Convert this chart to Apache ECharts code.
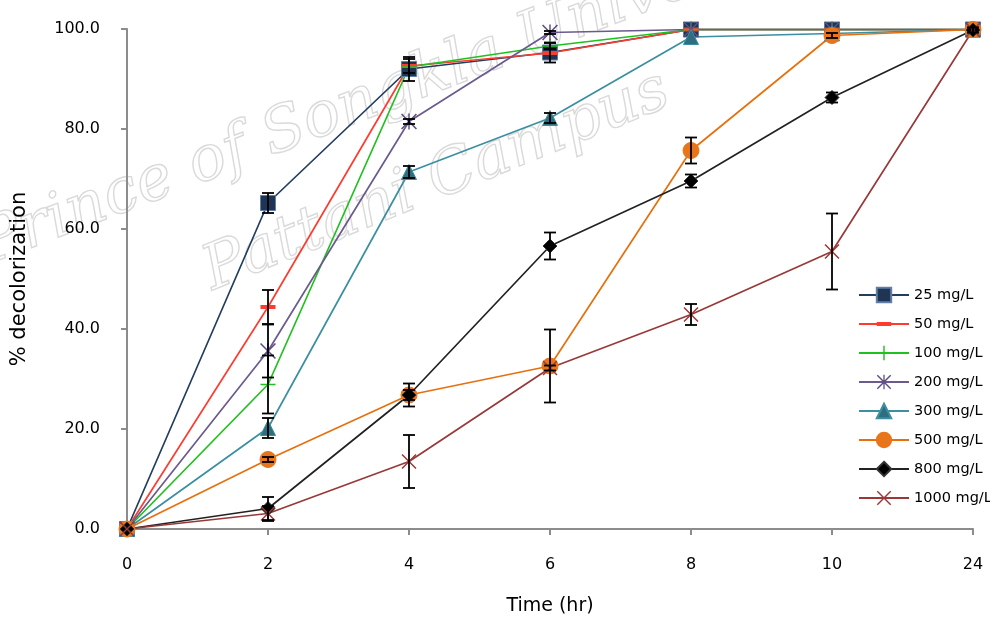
<!DOCTYPE html>
<html>
<head>
<meta charset="utf-8">
<title>% decolorization vs time</title>
<script src="https://cdn.jsdelivr.net/npm/echarts@6/dist/echarts.min.js"></script>
<style>
  html, body { margin: 0; padding: 0; background: #fff; }
  #chart { width: 990px; height: 621px; }
</style>
</head>
<body>
<div id="chart"></div>
<script>
// Sampling times (hr), shown as evenly spaced categories
const times = ['0', '2', '4', '6', '8', '10', '24'];
const yTicks = [0, 20, 40, 60, 80, 100];

// Dye concentrations
const names = ['25 mg/L', '50 mg/L', '100 mg/L', '200 mg/L', '300 mg/L', '500 mg/L', '800 mg/L', '1000 mg/L'];

// Mean % decolorization per concentration
const v25   = [0, 65.2, 92.0, 95.3, 99.9, 99.9, 99.9];
const v50   = [0, 44.4, 92.6, 95.2, 99.9, 99.9, 99.9];
const v100  = [0, 28.9, 92.4, 96.6, 99.9, 99.9, 99.9];
const v200  = [0, 35.6, 81.5, 99.3, 99.9, 99.9, 99.9];
const v300  = [0, 20.2, 71.4, 82.2, 98.4, 99.1, 99.9];
const v500  = [0, 13.9, 26.8, 32.6, 75.7, 98.7, 99.9];
const v800  = [0, 4.1, 26.8, 56.6, 69.6, 86.3, 99.8];
const v1000 = [0, 3.1, 13.5, 32.2, 42.9, 55.5, 99.8];

// Standard deviations (error bars)
const e25   = [0, 2.0, 2.4, 2.0, 0, 0, 0];
const e50   = [0, 3.4, 1.4, 0, 0, 0, 0];
const e100  = [0, 5.8, 0, 0.6, 0, 0, 0];
const e200  = [0, 5.3, 0.5, 0.3, 0, 0, 0];
const e300  = [0, 2.0, 1.2, 1.0, 0, 0, 0];
const e500  = [0, 0.5, 1.0, 7.3, 2.6, 0.5, 0];
const e800  = [0, 2.3, 2.3, 2.7, 1.3, 1.0, 0.5];
const e1000 = [0, 1.5, 5.3, 0.5, 2.1, 7.6, 0.5];

const values = [v25, v50, v100, v200, v300, v500, v800, v1000];
const errors = [e25, e50, e100, e200, e300, e500, e800, e1000];

// Marker shapes drawn as filled outlines (20x20 box; the dash keeps its
// box through two zero-area corner points)
const DASH = 'path://M0,0 L0.01,0 Z M0,7.2 H20 V12.8 H0 Z M20,20 L19.99,20 Z';
const PLUS = 'path://M9,0 H11 V9 H20 V11 H11 V20 H9 V11 H0 V9 H9 Z';
const CROSS = 'path://M0,1.4 L1.4,0 L10,8.6 L18.6,0 L20,1.4 L11.4,10 L20,18.6 L18.6,20 L10,11.4 L1.4,20 L0,18.6 L8.6,10 Z';
const STAR = 'path://M0,1.4 L1.4,0 L10,8.6 L18.6,0 L20,1.4 L11.4,10 L20,18.6 L18.6,20 L10,11.4 L1.4,20 L0,18.6 L8.6,10 Z M9.1,0 H10.9 V20 H9.1 Z';

const styles = [
  { line: '#223d5e', fill: '#1f3553', border: '#5f7fa6', symbol: 'rect', size: 15 },
  { line: '#ff3b2f', fill: '#ff3b2f', border: null, symbol: DASH, size: 15 },
  { line: '#1fc11f', fill: '#1fc11f', border: null, symbol: PLUS, size: 15 },
  { line: '#6b5a8e', fill: '#5e4d85', border: null, symbol: STAR, size: 16 },
  { line: '#3a8fa1', fill: '#2d6f80', border: '#3f8ea0', symbol: 'triangle', size: 15 },
  { line: '#e8700c', fill: '#e8751a', border: '#e8751a', symbol: 'circle', size: 16 },
  { line: '#222222', fill: '#000000', border: '#333333', symbol: 'diamond', size: 14 },
  { line: '#993838', fill: '#993838', border: null, symbol: CROSS, size: 15 }
];

const FONT = '"DejaVu Sans", Verdana, sans-serif';

const lineSeries = names.map((name, i) => ({
  name: name,
  type: 'line',
  data: values[i],
  symbol: styles[i].symbol,
  symbolSize: styles[i].size,
  showAllSymbol: true,
  lineStyle: { color: styles[i].line, width: 1.7 },
  itemStyle: {
    color: styles[i].fill,
    borderColor: styles[i].border || styles[i].fill,
    borderWidth: styles[i].border ? 1 : 0
  },
  emphasis: { disabled: true },
  z: 2
}));

// Flatten error bars: [categoryIndex, mean, sd]
const errData = [];
values.forEach((vals, i) => {
  vals.forEach((v, j) => {
    if (errors[i][j] > 0) errData.push([j, v, errors[i][j]]);
  });
});

const errorSeries = {
  type: 'custom',
  name: 'sd',
  data: errData,
  z: 5,
  silent: true,
  renderItem: function (params, api) {
    const x = api.value(0);
    const m = api.value(1);
    const sd = api.value(2);
    const top = api.coord([x, m + sd]);
    const bot = api.coord([x, m - sd]);
    const cap = 6;
    const st = { stroke: '#000', lineWidth: 1.8 };
    return {
      type: 'group',
      children: [
        { type: 'line', shape: { x1: top[0], y1: top[1], x2: bot[0], y2: bot[1] }, style: st },
        { type: 'line', shape: { x1: top[0] - cap, y1: top[1], x2: top[0] + cap, y2: top[1] }, style: st },
        { type: 'line', shape: { x1: bot[0] - cap, y1: bot[1], x2: bot[0] + cap, y2: bot[1] }, style: st }
      ]
    };
  }
};

const wmStyle = {
  fill: 'rgba(255,255,255,0)',
  stroke: '#dadada',
  lineWidth: 1.4,
  font: 'italic 62px "DejaVu Serif", serif',
  textAlign: 'left',
  textVerticalAlign: 'bottom'
};

const chart = echarts.init(document.getElementById('chart'), null, { renderer: 'canvas' });
chart.setOption({
  animation: false,
  backgroundColor: '#ffffff',
  grid: { left: 127, right: 17, top: 29, bottom: 92 },
  graphic: [
    { type: 'text', x: -6, y: 278, rotation: 21 * Math.PI / 180, z: -10, silent: true,
      style: Object.assign({ text: 'Prince of Songkla University' }, wmStyle) },
    { type: 'text', x: 218, y: 304, rotation: 22 * Math.PI / 180, z: -10, silent: true,
      style: Object.assign({ text: 'Pattani Campus' }, wmStyle) }
  ],
  legend: {
    orient: 'vertical',
    left: 853,
    top: 281,
    itemWidth: 50,
    itemHeight: 18,
    itemGap: 11,
    data: names,
    textStyle: { fontFamily: FONT, fontSize: 14.5, color: '#000', lineHeight: 18 }
  },
  xAxis: {
    type: 'category',
    data: times,
    boundaryGap: false,
    name: 'Time (hr)',
    nameLocation: 'middle',
    nameGap: 68,
    nameTextStyle: { fontFamily: FONT, fontSize: 19, color: '#000' },
    axisLine: { lineStyle: { color: '#8c8c8c', width: 2 } },
    axisTick: { show: true, length: 6, lineStyle: { color: '#8c8c8c', width: 2 } },
    axisLabel: { fontFamily: FONT, fontSize: 16, color: '#000', margin: 28 },
    splitLine: { show: false }
  },
  yAxis: {
    type: 'value',
    min: yTicks[0],
    max: yTicks[yTicks.length - 1],
    interval: 20,
    name: '% decolorization',
    nameLocation: 'middle',
    nameGap: 97,
    nameTextStyle: { fontFamily: FONT, fontSize: 21, color: '#000' },
    axisLine: { show: true, lineStyle: { color: '#8c8c8c', width: 2 } },
    axisTick: { show: true, length: 6, lineStyle: { color: '#8c8c8c', width: 2 } },
    axisLabel: { fontFamily: FONT, fontSize: 16, color: '#000', margin: 27,
      formatter: v => v.toFixed(1) },
    splitLine: { show: false }
  },
  series: lineSeries.concat([errorSeries])
});
</script>
</body>
</html>
